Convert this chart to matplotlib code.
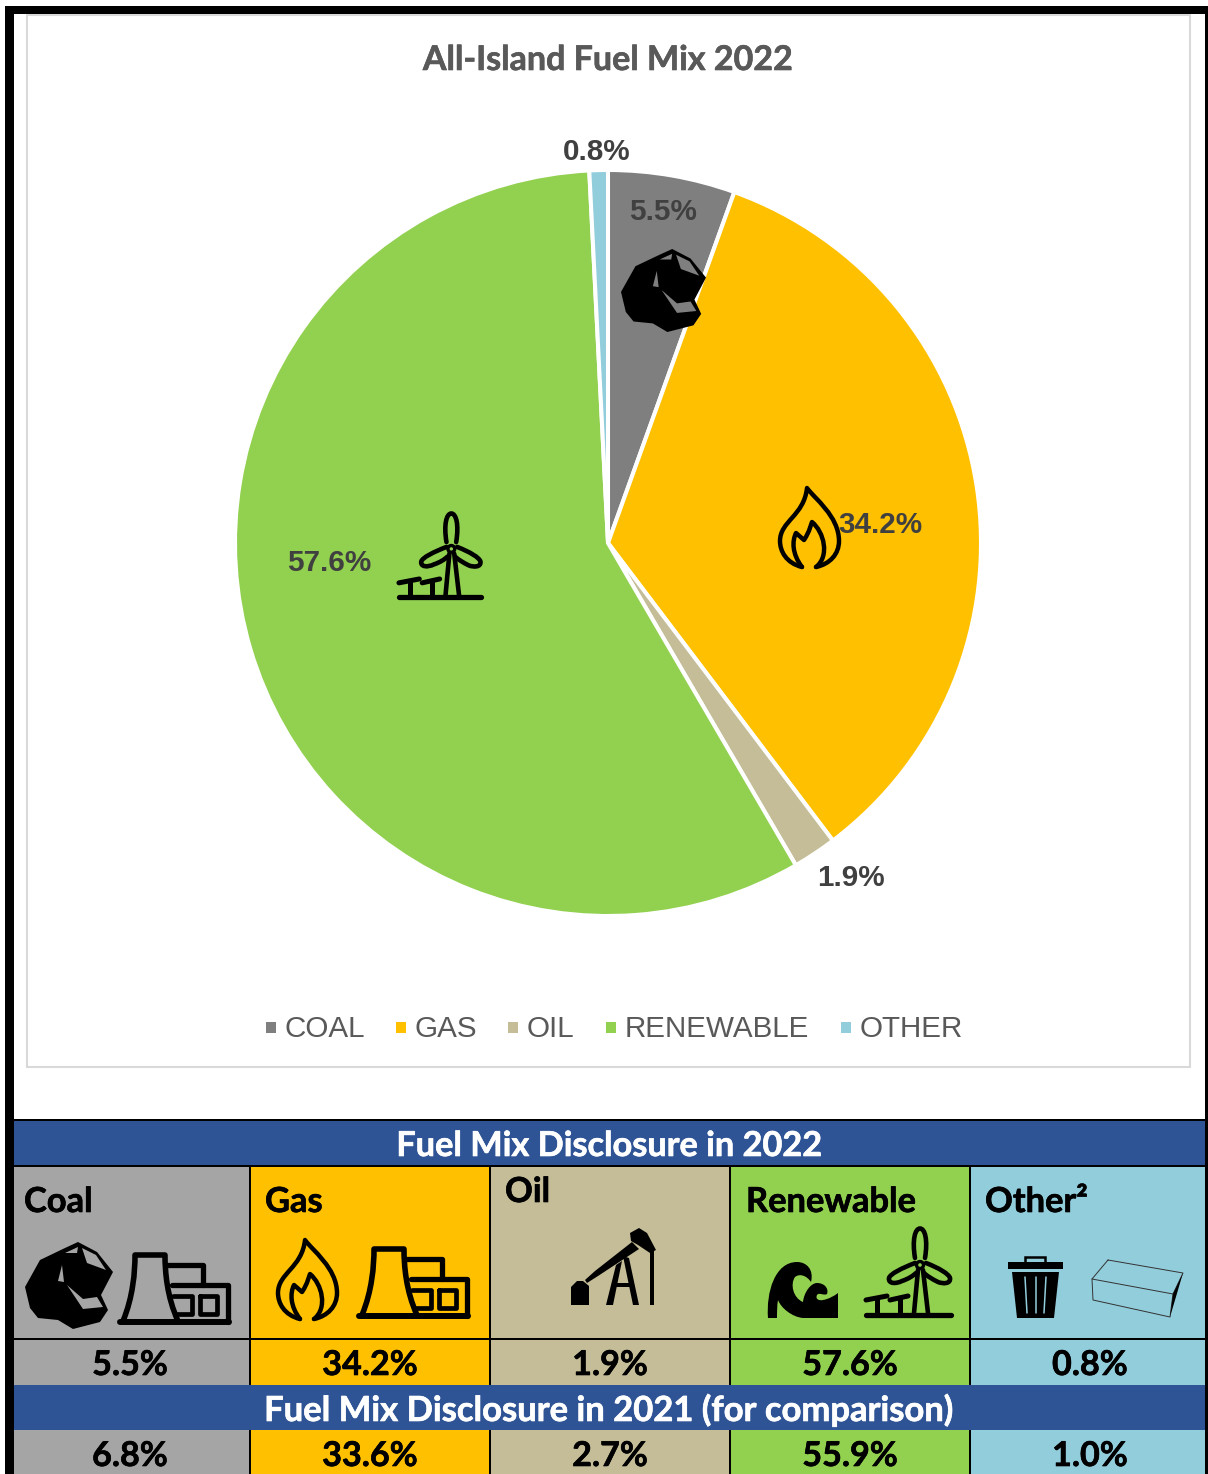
import matplotlib
matplotlib.use('Agg')
import matplotlib.pyplot as plt
import matplotlib.patches as patches
import matplotlib.patheffects as pe
from matplotlib.path import Path

W, H = 1208, 1474

# datos
fuels = ['COAL', 'GAS', 'OIL', 'RENEWABLE', 'OTHER']
mix_2022 = [5.5, 34.2, 1.9, 57.6, 0.8]
mix_2021 = [6.8, 33.6, 2.7, 55.9, 1.0]
headers = ['Coal', 'Gas', 'Oil', 'Renewable', 'Other²']
title = 'All-Island Fuel Mix 2022'
banner_2022 = 'Fuel Mix Disclosure in 2022'
banner_2021 = 'Fuel Mix Disclosure in 2021 (for comparison)'

pie_colors = ['#7F7F7F', '#FFC000', '#C4BD97', '#92D050', '#92CDDC']
cell_colors = ['#A5A5A5', '#FFC000', '#C4BD97', '#92D050', '#92CDDC']
blue = '#2F5496'
sans = 'Liberation Sans'
calib = 'Lato'

fig = plt.figure(figsize=(W/100, H/100), dpi=100)

# pie
R = 373
cx, cy = 608, 543
ax_pie = fig.add_axes([(cx-R)/W, 1-(cy+R)/H, 2*R/W, 2*R/H])
ax_pie.pie(mix_2022, colors=pie_colors, startangle=90, counterclock=False, radius=1,
           wedgeprops=dict(edgecolor='white', linewidth=2.9))
ax_pie.set_xlim(-1, 1)
ax_pie.set_ylim(-1, 1)
ax_pie.axis('off')

# capa en pixeles para todo lo demas
ax = fig.add_axes([0, 0, 1, 1], zorder=5)
ax.set_xlim(0, W)
ax.set_ylim(H, 0)
ax.axis('off')

M, L, C3, C4 = Path.MOVETO, Path.LINETO, Path.CURVE3, Path.CURVE4


def rect(x0, y0, x1, y1, color, z=1):
    ax.add_patch(patches.Rectangle((x0, y0), x1-x0, y1-y0, facecolor=color, edgecolor='none', zorder=z))


def line(pts, ox, oy, sx=1, sy=1, lw=3.4, color='k', z=6):
    xs = [ox + p[0]*sx for p in pts]
    ys = [oy + p[1]*sy for p in pts]
    ax.plot(xs, ys, color=color, lw=lw, solid_capstyle='round', solid_joinstyle='round', zorder=z)


def poly(pts, ox, oy, sx=1, sy=1, color='k', z=6):
    pts = [(ox + p[0]*sx, oy + p[1]*sy) for p in pts]
    ax.add_patch(patches.Polygon(pts, closed=True, facecolor=color, edgecolor='none', zorder=z))


def bez(verts, codes, ox, oy, sx=1, sy=1, fc='none', lw=3.2, z=6):
    verts = [(ox + v[0]*sx, oy + v[1]*sy) for v in verts]
    ax.add_patch(patches.PathPatch(Path(verts, codes), facecolor=fc, edgecolor='k' if fc == 'none' else 'none',
                                   lw=lw, capstyle='round', joinstyle='round', zorder=z))


def heavy(x, y, s, size, color, ha='left'):
    # Lato Bold queda algo fino comparado con el original, se engorda un poco
    ax.text(x, y, s, family=calib, weight='bold', size=size, color=color, ha=ha, va='baseline', zorder=4,
            path_effects=[pe.withStroke(linewidth=0.45, foreground=color)])


def coal(ox, oy, bg, sx=1, sy=1):
    poly([(0, 45), (15, 18), (40, 6), (53, 0), (72, 10), (88, 30), (76, 53), (83, 68), (75, 80),
          (48, 87), (33, 78), (13, 76), (5, 66)], ox, oy, sx, sy)
    poly([(57, 6), (62, 21), (81, 28), (71, 13)], ox, oy, sx, sy, color=bg, z=7)
    poly([(40, 11), (53, 5), (52, 11)], ox, oy, sx, sy, color=bg, z=7)
    poly([(33, 39), (37, 23), (39, 40)], ox, oy, sx, sy, color=bg, z=7)
    poly([(42, 43), (58, 67), (78, 65), (72, 55), (58, 57)], ox, oy, sx, sy, color=bg, z=7)


def flame(ox, oy):
    bez([(24, 81), (8, 77), (2, 65), (2, 55), (2, 35), (26, 30), (29, 2), (36, 12), (61, 30), (61, 55),
         (61, 68), (52, 78), (38, 81)],
        [M] + [C4]*12, ox, oy)
    bez([(24, 81), (14, 68), (14, 55), (18, 47), (26, 54), (32, 45), (33, 38), (34, 36), (46, 46), (52, 70), (38, 81)],
        [M, C4, C4, C4, L, C4, C4, C4, C4, C4, C4], ox, oy)


def tower(ox, oy):
    line([(3, 70), (112, 70)], ox, oy, lw=4.3)
    bez([(6, 69), (16, 45), (18, 20), (18, 3), (48, 3), (48, 20), (50, 45), (61, 69)],
        [M, C4, C4, C4, L, C4, C4, C4], ox, oy, lw=4)
    line([(50, 13), (86, 13), (86, 33)], ox, oy, lw=3.8)
    line([(55, 33), (111, 33), (111, 70)], ox, oy, lw=3.8)
    line([(83, 44), (100, 44), (100, 62), (83, 62), (83, 44)], ox, oy, lw=3.4)
    line([(56, 44), (75, 44), (75, 62), (60, 62)], ox, oy, lw=3.4)


def turbine(ox, oy, s=1.0):
    line([(2, 87), (87, 87)], ox, oy, s, s, lw=3.8)
    line([(50, 85), (54, 42)], ox, oy, s, s, lw=3.3)
    line([(64, 85), (59, 42)], ox, oy, s, s, lw=3.3)
    bez([(51, 30), (48, 12), (51, 0.5), (56, 0.5), (61, 0.5), (64, 12), (61, 30)],
        [M, C4, C4, C4, C4, C4, C4], ox, oy, s, s, lw=3.3)
    bez([(51, 35), (38, 40), (26, 46), (25, 50), (24, 56), (32, 56), (38, 53), (44, 51), (49, 48), (52, 45)],
        [M] + [C4]*9, ox, oy, s, s, lw=3.3)
    bez([(62, 35), (75, 40), (85, 46), (86, 50), (87, 56), (79, 56), (74, 54), (68, 51), (63, 48), (60, 45)],
        [M] + [C4]*9, ox, oy, s, s, lw=3.3)
    ax.add_patch(patches.Circle((ox+56*s, oy+37*s), 3.5*s, facecolor='none', edgecolor='k', lw=2.4, zorder=6))
    line([(2, 72), (23, 68)], ox, oy, s, s, lw=3.6)
    line([(13, 70), (13, 85)], ox, oy, s, s, lw=3.6)
    line([(26, 72), (44, 68)], ox, oy, s, s, lw=3.6)
    line([(36, 70), (36, 85)], ox, oy, s, s, lw=3.6)


def wave(ox, oy):
    v = [(1, 56), (-1, 30), (8, 0), (30, 0), (40, 0), (47, 8), (44, 20), (40, 14), (33, 11), (28, 15),
         (23, 22), (26, 36), (36, 40), (37, 30), (44, 21), (50, 21), (57, 21), (62, 26), (60, 32),
         (57, 34), (52, 30), (50, 33), (48, 37), (52, 39), (56, 38), (62, 37), (67, 34), (71, 31),
         (71, 56), (36, 56), (25, 55), (14, 46), (11, 38), (10, 44), (10, 50), (10, 56), (1, 56)]
    codes = [M] + [C4]*27 + [L, L] + [C4]*6 + [L]
    bez(v, codes, ox, oy, fc='k', lw=0)


def pumpjack(ox, oy):
    poly([(1, 59), (7, 53), (13, 53), (19, 58), (19, 77), (1, 77)], ox, oy)
    poly([(15, 52), (25, 43), (62, 14), (69, 21), (28, 48), (17, 55)], ox, oy)
    poly([(60, 5), (69, 0), (77, 5), (86, 22), (80, 25), (68, 17), (61, 13)], ox, oy)
    rect(ox+80, oy+23, ox+84, oy+77, 'k', z=6)
    poly([(36, 77), (46, 37), (52, 33), (43, 77)], ox, oy)
    poly([(63, 77), (53, 28), (59, 30), (69, 77)], ox, oy)
    rect(ox+44, oy+55, ox+62, oy+59, 'k', z=6)


def bin_icon(ox, oy, bg):
    rect(ox, oy+6, ox+55, oy+13, 'k', z=6)
    ax.add_patch(patches.Rectangle((ox+17, oy+1), 20, 6, facecolor='none', edgecolor='k', lw=1.8, zorder=6))
    poly([(4, 16), (51, 16), (46, 62), (9, 62)], ox, oy)
    line([(17, 21), (19, 57)], ox, oy, lw=1.1, color=bg, z=7)
    line([(27.5, 21), (27.5, 57)], ox, oy, lw=1.1, color=bg, z=7)
    line([(38, 21), (36, 57)], ox, oy, lw=1.1, color=bg, z=7)


def box(ox, oy):
    for pts in [[(16, 0), (91, 13), (81, 34), (0, 19), (16, 0)], [(0, 19), (1, 40), (78, 57), (81, 34)]]:
        line(pts, ox, oy, lw=0.7, color='#333333')
    poly([(91, 13), (81, 34), (78, 57)], ox, oy)


# borde negro y marco del grafico
rect(5, 6, 1208, 14, 'k', z=8)
rect(5, 6, 14, H, 'k', z=8)
rect(1205, 6, 1208, H, 'k', z=8)
ax.add_patch(patches.Rectangle((26.5, 14.5), 1163, 1052.5, facecolor='none', edgecolor='#D9D9D9', lw=1.5, zorder=2))

heavy(608, 70, title, 24.5, '#595959', ha='center')

# etiquetas del pie
label_xy = [(663, 212), (880, 525), (851, 878), (329, 563), (597, 152)]
for val, (lx, ly) in zip(mix_2022, label_xy):
    ax.text(lx, ly, f'{val:.1f}%', family=sans, weight='bold', size=21.3, color='#404040', ha='center', va='center', zorder=9)

# leyenda
legend_x = [266, 396, 508, 606, 841]
for name, col, lx in zip(fuels, pie_colors, legend_x):
    rect(lx, 1022, lx+10, 1033, col)
    ax.text(lx+19, 1037, name, family=sans, size=21.3, color='#595959', ha='left', va='baseline')

# tabla
edges = [14, 250, 490, 730, 970, 1205]
rect(14, 1119, 1205, 1167, 'k')
rect(14, 1121, 1205, 1165, blue, z=2)
rect(14, 1385, 1205, 1430, blue, z=3)
for i, col in enumerate(cell_colors):
    x0, x1 = edges[i], edges[i+1]
    rect(x0, 1167, x1, 1385, col)
    rect(x0, 1430, x1, H, col)
rect(14, 1338, 1205, 1340, 'k', z=2)
for x in edges[1:-1]:
    rect(x-1, 1167, x+1, 1385, 'k', z=2)
    rect(x-1, 1430, x+1, H, 'k', z=2)

heavy(609, 1156, banner_2022, 24.7, 'white', ha='center')
heavy(609, 1421, banner_2021, 24.9, 'white', ha='center')

header_x = [24, 265, 505, 746, 985]
header_y = [1212, 1212, 1202, 1212, 1212]
value_x = [130, 370, 610, 850, 1090]
for h, hx, hy, a, b, vx in zip(headers, header_x, header_y, mix_2022, mix_2021, value_x):
    heavy(hx, hy, h, 24.8, 'k')
    heavy(vx, 1375, f'{a:.1f}%', 24.6, 'k', ha='center')
    heavy(vx, 1466, f'{b:.1f}%', 24.6, 'k', ha='center')

# iconos
coal(621, 249, pie_colors[0], 85/88, 83/87)
flame(778, 486)
turbine(397, 513, 0.97)
coal(25, 1242, cell_colors[0])
tower(117, 1252)
flame(276, 1238)
tower(356, 1246)
pumpjack(570, 1228)
wave(767, 1262)
turbine(864, 1228)
bin_icon(1008, 1256, cell_colors[4])
box(1092, 1260)

fig.savefig('out.png', dpi=100, facecolor='white')
